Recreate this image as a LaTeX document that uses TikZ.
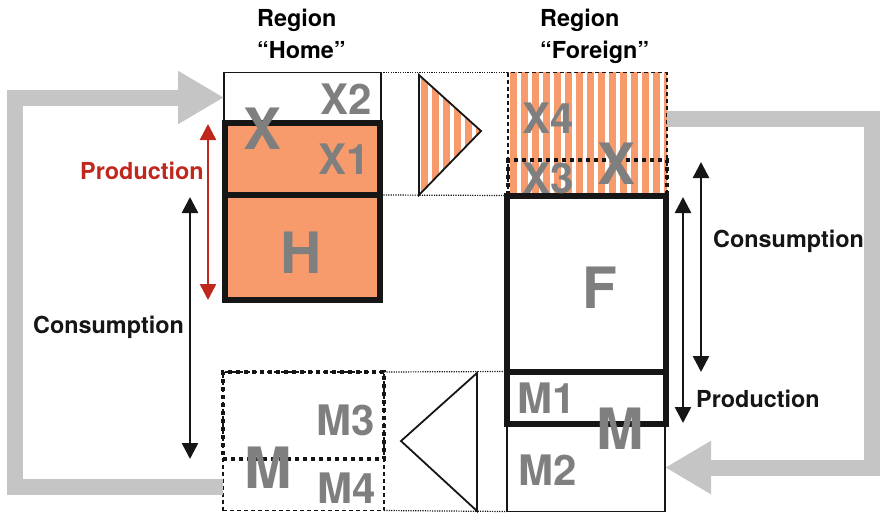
\documentclass[tikz,border=0pt]{standalone}
\usepackage{fontspec}
\setmainfont{TeX Gyre Heros}
\usetikzlibrary{arrows.meta}
\definecolor{salmon}{HTML}{F89B6C}
\definecolor{loopgray}{HTML}{C4C5C4}
\definecolor{labelgray}{HTML}{7F7F7F}
\definecolor{prodred}{HTML}{C0281E}
\definecolor{ink}{HTML}{161616}
\tikzset{
  thinbox/.style={draw=ink, line width=1.5pt, inner sep=0pt, outer sep=0pt},
  thickbox/.style={draw=ink, line width=6pt, inner sep=0pt, outer sep=0pt},
  dashbox/.style={draw=ink, line width=1.5pt, dash pattern=on 4pt off 3pt, inner sep=0pt, outer sep=0pt},
  dotbox/.style={draw=ink, line width=4pt, dash pattern=on 4pt off 4pt, inner sep=0pt, outer sep=0pt},
  link/.style={draw=ink, line width=1.2pt, dash pattern=on 1.2pt off 1.2pt},
  stripes/.style={path picture={\foreach \k in {0,...,16}
      \fill[salmon] ([xshift=\k*11pt+2pt]path picture bounding box.south west) rectangle ++(7pt,200pt);}},
  flow/.style={draw=loopgray, line width=16pt, line join=miter, -{Triangle[length=46pt,width=50pt]}},
  span/.style={line width=2.6pt, {Triangle[length=16pt,width=16pt]}-{Triangle[length=16pt,width=16pt]}},
  txt/.style={inner sep=0pt, font=\fontsize{23.4}{28}\selectfont\bfseries},
  mid/.style={inner sep=0pt, text=labelgray, font=\fontsize{42}{42}\selectfont\bfseries},
  big/.style={inner sep=0pt, text=labelgray, font=\fontsize{57}{57}\selectfont\bfseries}
}
\begin{document}
\begin{tikzpicture}[x=1pt,y=-1pt]
\useasboundingbox (0,0) rectangle (880,514);

\node[txt, anchor=base west] (rh1) at (257,27) {Region};
\node[txt, anchor=base west] (rh2) at (257,58) {“Home”};
\node[txt, anchor=base west] (rf1) at (540,27) {Region};
\node[txt, anchor=base west] (rf2) at (540,58) {“Foreign”};

\node[dashbox, stripes, minimum width=159, minimum height=123] (xf) at (587.5,134) {};
\node[dotbox, minimum width=159, minimum height=35.5] (x3) at (587.5,177.75) {};
\draw[ink, line width=1.8pt, stripes] (419,75) -- (481,131) -- (419,195) -- cycle;
\draw[ink, line width=1.8pt] (477,373) -- (401,441) -- (477,511) -- cycle;

\node[thinbox, minimum width=157, minimum height=50] (x2) at (302.5,97.5) {};
\node[thinbox, minimum width=158, minimum height=88] (m2) at (586,467.5) {};
\node[dashbox, minimum width=161, minimum height=138.5] (mh) at (303.5,441.25) {};
\node[dotbox, minimum width=161, minimum height=87] (m3) at (303.5,415.5) {};

\draw[link] (x2.north east) -- (xf.north west);
\draw[link] (x2.south east |- 0,195) -- (xf.south west);
\draw[link] (mh.north east) -- (506.5,371.5);
\draw[link] (mh.south east) -- (m2.south west);

\node[thickbox, fill=salmon, minimum width=155.5, minimum height=72.5] (x1) at (302.25,158.75) {};
\node[thickbox, fill=salmon, minimum width=155.5, minimum height=105] (h) at (302.25,247.5) {};
\node[thickbox, minimum width=159, minimum height=176] (f) at (586,283.5) {};
\node[thickbox, minimum width=159, minimum height=52] (m1) at (586,397.5) {};

\node[big] (lhx) at (263,129) {X};
\node[mid] (lx2) at (346,99) {X2};
\node[mid] (lx1) at (344,159) {X1};
\node[big] (lh) at (301,253) {H};
\node[mid] (lx4) at (548,118) {X4};
\node[mid] (lx3) at (548,178) {X3};
\node[big] (lfx) at (617,164) {X};
\node[big] (lf) at (600,288) {F};
\node[mid] (lm1) at (547,398) {M1};
\node[mid] (lm2) at (548,470) {M2};
\node[big] (lfm) at (620,429) {M};
\node[mid] (lm3) at (346,420) {M3};
\node[mid] (lm4) at (347,488) {M4};
\node[big] (lhm) at (268,468) {M};

\coordinate (mout) at (223,487);
\coordinate (lturn) at (15,0);
\coordinate (xout) at (667,119);
\coordinate (rturn) at (872,0);
\draw[flow] (mout) -| (lturn |- x2.west) -- (x2.west);
\draw[flow] (xout) -| (rturn |- m2.east) -- (m2.east);

\coordinate (hp1) at (208,124);
\coordinate (hp2) at (208,300);
\coordinate (hc1) at (190,197);
\coordinate (hc2) at (190,459);
\coordinate (fc1) at (701,162);
\coordinate (fc2) at (701,372);
\coordinate (fp1) at (683,197);
\coordinate (fp2) at (683,423);
\draw[span, prodred] (hp1) -- (hp2);
\draw[span, ink] (hc1) -- (hc2);
\draw[span, ink] (fc1) -- (fc2);
\draw[span, ink] (fp1) -- (fp2);

\node[txt, text=prodred, anchor=base west] (lhp) at (80,179) {Production};
\node[txt, text=ink, anchor=base west] (lhc) at (33,333) {Consumption};
\node[txt, text=ink, anchor=base west] (lfc) at (713,247) {Consumption};
\node[txt, text=ink, anchor=base west] (lfp) at (696,407) {Production};
\end{tikzpicture}
\end{document}
